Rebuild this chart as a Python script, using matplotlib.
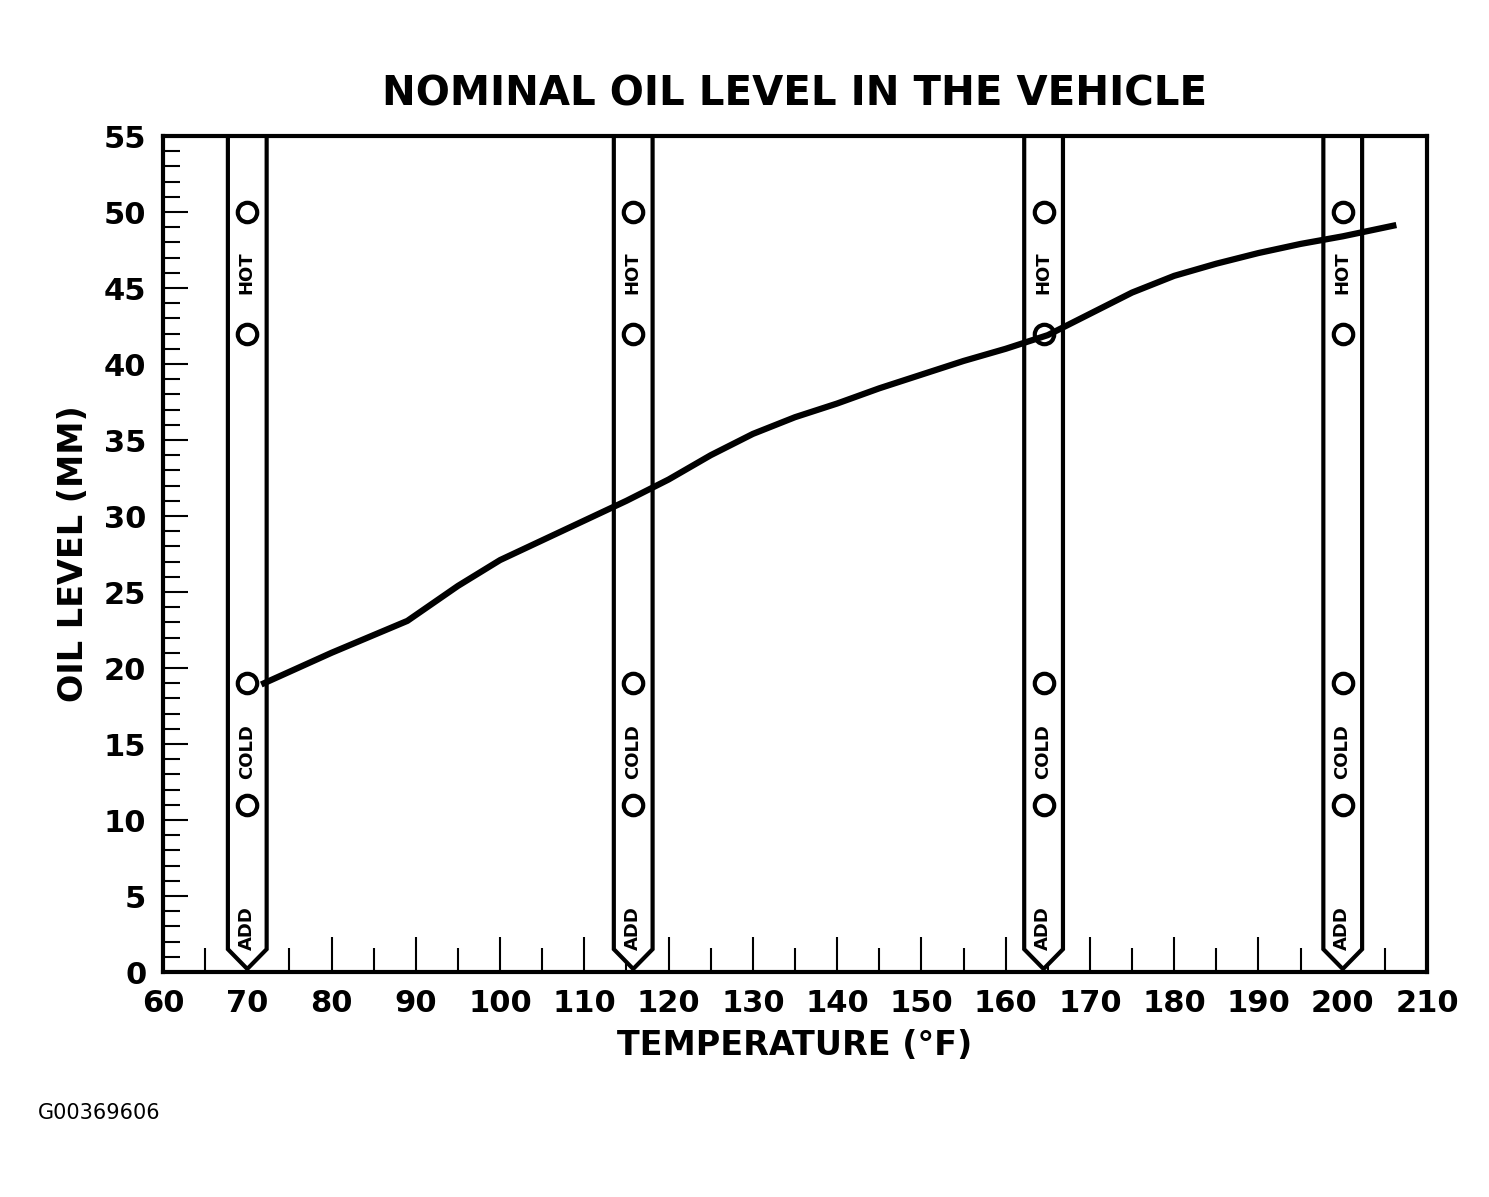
import matplotlib
matplotlib.use("Agg")
import matplotlib.pyplot as plt
from matplotlib.ticker import MultipleLocator

temp = [72, 80, 89, 95, 100, 105, 110, 115, 120, 125, 130, 135, 140, 145, 150, 155, 160, 165, 170, 175, 180, 185, 190, 195, 200, 206]
level = [19.0, 21.0, 23.1, 25.4, 27.1, 28.4, 29.7, 31.0, 32.4, 34.0, 35.4, 36.5, 37.4, 38.4, 39.3, 40.2, 41.0, 41.9, 43.3, 44.7, 45.8, 46.6, 47.3, 47.9, 48.4, 49.1]
stick_x = [70, 115.8, 164.5, 200]
circle_y = [50, 42, 19, 11]
stick_labels = [("HOT", 46), ("COLD", 14.5), ("ADD", 2.9)]

fig = plt.figure(figsize=(14.89, 11.97), dpi=100)
ax = fig.add_axes([163/1489, 1-972/1197, (1427-163)/1489, (972-136)/1197])
ax.set_xlim(60, 210)
ax.set_ylim(0, 55)

hw = 2.3
for cx in stick_x:
    xs = [cx - hw, cx - hw, cx, cx + hw, cx + hw]
    ys = [55, 1.5, 0.2, 1.5, 55]
    ax.fill(xs, ys, color="white", zorder=2)
    ax.plot(xs, ys, color="black", lw=3, zorder=3, solid_joinstyle="miter")
    ax.plot([cx]*len(circle_y), circle_y, "o", ms=14, mfc="none", mec="black", mew=3, zorder=4)
    for t, y in stick_labels:
        ax.text(cx - 0.05, y, t, rotation=90, ha="center", va="center",
                fontsize=13, fontweight="bold", zorder=4)

ax.plot(temp, level, color="black", lw=4.5, zorder=5)

for s in ax.spines.values():
    s.set_linewidth(3)
ax.xaxis.set_major_locator(MultipleLocator(10))
ax.xaxis.set_minor_locator(MultipleLocator(5))
ax.yaxis.set_major_locator(MultipleLocator(5))
ax.yaxis.set_minor_locator(MultipleLocator(1))
ax.tick_params(which="major", direction="in", length=25, width=1.5, labelsize=22, pad=12)
ax.tick_params(which="minor", direction="in", length=17, width=1.5)
ax.tick_params(axis="y", which="major", length=18)
ax.tick_params(axis="y", which="minor", length=12)
for lab in ax.get_xticklabels() + ax.get_yticklabels():
    lab.set_fontweight("bold")

ax.set_xlabel("TEMPERATURE (°F)", fontsize=24, fontweight="bold", labelpad=8)
ax.set_ylabel("OIL LEVEL (MM)", fontsize=24, fontweight="bold", labelpad=10)
ax.set_title("NOMINAL OIL LEVEL IN THE VEHICLE", fontsize=29, fontweight="bold", pad=22)
fig.text(38/1489, 1-1113/1197, "G00369606", fontsize=15, va="center")

fig.savefig("out.png", dpi=100, facecolor="white")
